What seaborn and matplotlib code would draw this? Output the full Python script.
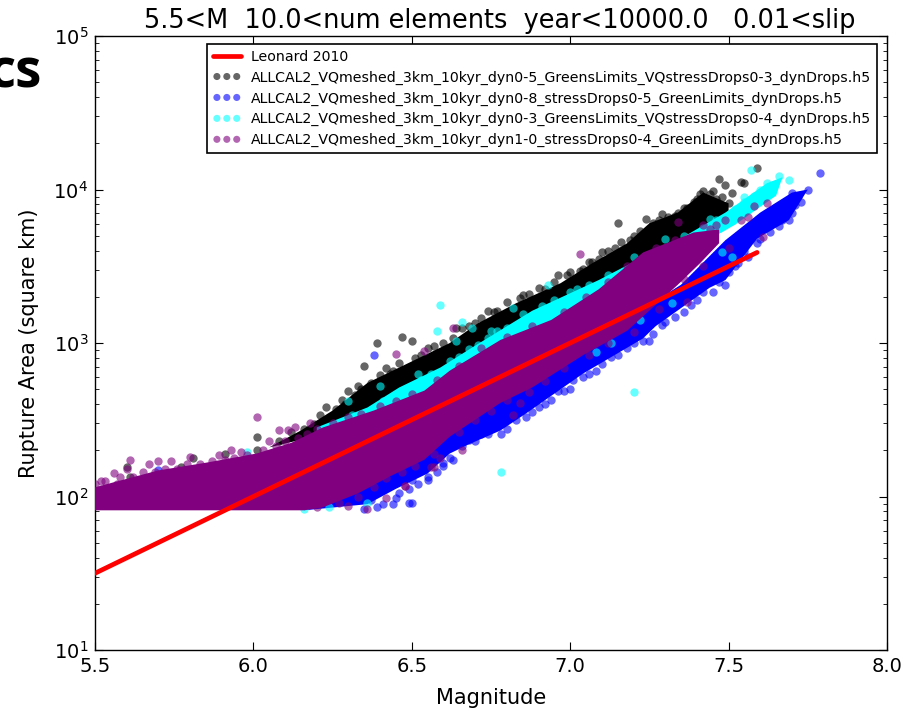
import numpy as np
import matplotlib
matplotlib.use('Agg')
import matplotlib.pyplot as plt
import seaborn as sns

# all areas below are log10(square km)
leonard_mag = [5.5, 7.59]
leonard_log = [1.50, 3.59]

# outline of the solid part of each cloud
black_band_mag = [6.05, 6.15, 6.25, 6.36, 6.49, 6.62, 6.71, 6.83, 6.97, 7.07, 7.18, 7.25, 7.34, 7.42, 7.50, 7.50, 7.38, 7.09, 6.62, 6.15]
black_band_log = [2.32, 2.43, 2.56, 2.74, 2.87, 3.00, 3.13, 3.26, 3.39, 3.52, 3.65, 3.78, 3.85, 3.98, 3.91, 3.77, 3.61, 3.28, 2.76, 2.37]

blue_band_mag = [6.16, 6.36, 6.45, 6.55, 6.62, 6.68, 6.78, 6.86, 7.04, 7.23, 7.27, 7.44, 7.49, 7.59, 7.69, 7.75, 7.70, 7.60, 7.49, 7.35, 6.78, 6.16]
blue_band_log = [1.91, 1.95, 2.05, 2.15, 2.28, 2.34, 2.43, 2.54, 2.80, 3.03, 3.11, 3.36, 3.41, 3.68, 3.80, 4.00, 3.98, 3.85, 3.67, 3.38, 2.63, 1.95]

cyan_band_mag = [6.20, 6.36, 6.46, 6.59, 6.69, 6.88, 7.09, 7.23, 7.34, 7.49, 7.62, 7.67, 7.65, 7.52, 7.41, 7.16, 6.78, 6.20]
cyan_band_log = [2.45, 2.58, 2.71, 2.84, 2.97, 3.21, 3.41, 3.56, 3.67, 3.85, 4.04, 4.08, 3.96, 3.77, 3.64, 3.28, 2.82, 2.30]

purple_band_mag = [5.50, 5.70, 5.85, 6.01, 6.12, 6.22, 6.38, 6.54, 6.62, 6.78, 6.94, 7.09, 7.23, 7.39, 7.47,
                   7.47, 7.41, 7.34, 7.18, 7.04, 6.88, 6.78, 6.62, 6.54, 6.43, 6.33, 6.22, 6.16, 5.50]
purple_band_log = [2.06, 2.17, 2.22, 2.28, 2.35, 2.45, 2.56, 2.69, 2.82, 3.02, 3.15, 3.35, 3.59, 3.72, 3.74,
                   3.65, 3.52, 3.38, 3.08, 2.92, 2.71, 2.61, 2.39, 2.24, 2.13, 2.02, 1.93, 1.91, 1.91]

# single events: outliers first, then the ones along the rough edge of each cloud
black_mag = [6.39, 6.47, 6.50, 6.35, 6.33, 6.23, 6.96, 6.90, 6.77, 6.64, 6.01, 6.01, 5.91, 5.81, 5.60, 5.61, 5.77,
             7.15, 7.24, 7.59, 7.47, 7.49, 7.54, 7.55, 7.51, 7.42, 7.40, 7.46, 7.50, 7.34, 7.31, 7.16, 7.10, 7.07,
             6.28, 6.30, 6.42, 6.44, 6.55, 6.68, 6.74, 6.85, 6.99, 7.03, 7.20, 7.28, 7.37, 7.44,
             6.08, 6.12, 6.16, 6.19, 6.21, 6.26, 6.29, 6.32, 6.34, 6.37, 6.40, 6.43, 6.46, 6.51, 6.53, 6.57, 6.60, 6.63,
             6.66, 6.70, 6.72, 6.76, 6.80, 6.84, 6.87, 6.92, 6.95, 7.00, 7.04, 7.06, 7.09, 7.12, 7.14, 7.19, 7.22, 7.26,
             7.29, 7.33, 7.36, 7.39, 7.41, 7.43, 7.45, 7.48]
black_log = [3.00, 3.04, 3.01, 2.85, 2.72, 2.58, 3.44, 3.36, 3.21, 3.10, 2.39, 2.30, 2.28, 2.25, 2.19, 2.13, 2.19,
             3.78, 3.81, 4.14, 4.07, 4.03, 4.05, 4.04, 3.98, 3.99, 3.94, 3.94, 3.91, 3.85, 3.82, 3.66, 3.59, 3.53,
             2.63, 2.69, 2.84, 2.82, 2.97, 3.11, 3.21, 3.31, 3.44, 3.47, 3.70, 3.80, 3.88, 3.97,
             2.36, 2.42, 2.44, 2.47, 2.53, 2.57, 2.60, 2.66, 2.70, 2.74, 2.79, 2.80, 2.87, 2.90, 2.92, 2.98, 3.00, 3.03,
             3.10, 3.13, 3.16, 3.20, 3.27, 3.29, 3.32, 3.35, 3.40, 3.46, 3.48, 3.53, 3.55, 3.60, 3.62, 3.67, 3.73, 3.78,
             3.84, 3.83, 3.88, 3.92, 3.97, 3.94, 3.99, 3.95]

blue_mag = [7.79, 7.75, 7.70, 7.73, 7.69, 7.70, 7.59, 7.49, 7.45, 7.25, 7.23, 7.18, 7.13, 6.38, 6.86, 6.78, 6.72, 6.68,
            6.55, 6.50, 7.04, 7.08, 6.96, 6.49, 6.50, 6.44, 6.39, 6.35, 6.45, 6.55, 5.70, 6.62, 6.60, 6.92, 7.00,
            7.30, 7.36, 7.40, 7.52, 7.56, 7.63, 7.66,
            6.37, 6.41, 6.46, 6.49, 6.52, 6.58, 6.60, 6.63, 6.66, 6.70, 6.74, 6.80, 6.83, 6.88, 6.90, 6.94, 6.98, 7.01,
            7.06, 7.10, 7.15, 7.20, 7.26, 7.29, 7.33, 7.38, 7.42, 7.47, 7.50, 7.53, 7.55, 7.60, 7.64, 7.67, 7.71, 7.72]
blue_log = [4.11, 4.00, 3.98, 3.92, 3.80, 3.85, 3.65, 3.38, 3.33, 3.01, 3.01, 2.97, 2.91, 2.92, 2.52, 2.41, 2.41, 2.37,
            2.11, 2.11, 2.78, 2.82, 2.69, 1.96, 1.96, 1.95, 1.93, 1.92, 1.99, 2.13, 2.17, 2.25, 2.22, 2.60, 2.70,
            3.14, 3.20, 3.28, 3.50, 3.56, 3.72, 3.76,
            1.98, 1.95, 2.02, 2.05, 2.08, 2.16, 2.20, 2.24, 2.33, 2.36, 2.41, 2.44, 2.50, 2.55, 2.58, 2.63, 2.69, 2.76,
            2.80, 2.86, 2.92, 3.00, 3.06, 3.12, 3.17, 3.25, 3.33, 3.40, 3.46, 3.52, 3.60, 3.68, 3.78, 3.80, 3.90, 3.96]

cyan_mag = [7.08, 7.13, 7.22, 7.32, 7.51, 7.48, 6.59, 6.66, 6.58, 6.69, 6.93, 6.64, 6.82, 6.78, 7.20, 7.57, 7.66, 7.62,
            5.98, 6.16, 6.36, 6.24, 6.30, 6.40, 6.52, 6.75, 7.00, 7.30, 7.44, 7.55,
            6.22, 6.27, 6.31, 6.33, 6.38, 6.41, 6.44, 6.47, 6.50, 6.53, 6.56, 6.60, 6.62, 6.65, 6.68, 6.71, 6.74, 6.77,
            6.80, 6.85, 6.91, 6.95, 7.02, 7.06, 7.12, 7.17, 7.20, 7.26, 7.30, 7.36, 7.42, 7.46, 7.52, 7.55, 7.58, 7.60,
            7.64, 7.69]
cyan_log = [2.94, 3.00, 3.15, 3.26, 3.56, 3.59, 3.25, 3.14, 3.08, 3.10, 3.38, 3.01, 3.23, 2.16, 2.68, 4.13, 4.09, 4.04,
            2.29, 1.92, 1.96, 1.93, 2.62, 2.72, 2.80, 3.08, 3.33, 3.68, 3.81, 3.95,
            2.43, 2.47, 2.53, 2.50, 2.57, 2.62, 2.63, 2.69, 2.72, 2.76, 2.80, 2.82, 2.88, 2.91, 2.96, 2.99, 3.03, 3.08,
            3.10, 3.19, 3.24, 3.28, 3.35, 3.38, 3.44, 3.47, 3.56, 3.55, 3.62, 3.70, 3.75, 3.80, 3.87, 3.92, 3.96, 4.00,
            4.03, 4.06]

purple_mag = [6.01, 6.13, 6.08, 6.11, 5.96, 5.89, 5.74, 5.67, 5.61, 5.56, 5.58, 5.65, 6.48, 6.42, 6.36, 6.30, 6.57,
              6.45, 6.54, 6.63, 6.66, 6.59, 6.56, 6.48, 6.84, 6.82, 7.03, 7.61, 7.62, 7.58, 7.56, 7.54, 7.49, 7.46,
              7.42, 7.34, 7.37, 5.52, 5.60, 5.70, 5.80, 5.93, 6.05, 6.18, 7.50, 7.45,
              5.50, 5.53, 5.57, 5.62, 5.66, 5.69, 5.72, 5.76, 5.79, 5.83, 5.87, 5.91, 5.94, 5.98, 6.03, 6.07, 6.10, 6.14,
              6.17, 6.20, 6.25, 6.30, 6.34, 6.40, 6.45, 6.50, 6.58, 6.65, 6.72, 6.80, 6.88, 6.98, 7.05, 7.12, 7.18, 7.27,
              7.33, 7.44,
              6.20, 6.27, 6.33, 6.38, 6.42, 6.47, 6.51, 6.57, 6.65, 6.70, 6.75, 6.80, 6.87, 6.92, 6.98, 7.06, 7.12, 7.20,
              7.28, 7.36, 7.42]
purple_log = [2.52, 2.45, 2.43, 2.43, 2.29, 2.27, 2.23, 2.21, 2.24, 2.15, 2.13, 2.16, 2.07, 1.99, 1.92, 1.94, 2.19,
              2.93, 2.95, 3.10, 2.30, 2.25, 2.19, 2.07, 2.61, 2.53, 3.58, 3.69, 3.91, 3.89, 3.82, 3.80, 3.80, 3.77,
              3.77, 3.79, 3.27, 2.10, 2.18, 2.23, 2.26, 2.30, 2.36, 2.48, 3.62, 3.68,
              2.08, 2.10, 2.08, 2.13, 2.12, 2.16, 2.18, 2.18, 2.21, 2.21, 2.23, 2.24, 2.25, 2.27, 2.30, 2.33, 2.36, 2.38,
              2.41, 2.44, 2.48, 2.52, 2.54, 2.59, 2.62, 2.67, 2.76, 2.85, 2.97, 3.04, 3.11, 3.20, 3.30, 3.40, 3.50, 3.62,
              3.67, 3.74,
              1.93, 1.96, 2.00, 2.06, 2.12, 2.16, 2.20, 2.28, 2.42, 2.50, 2.56, 2.63, 2.68, 2.75, 2.84, 2.92, 3.00, 3.07,
              3.22, 3.42, 3.50]

labels = ['ALLCAL2_VQmeshed_3km_10kyr_dyn0-5_GreensLimits_VQstressDrops0-3_dynDrops.h5',
          'ALLCAL2_VQmeshed_3km_10kyr_dyn0-8_stressDrops0-5_GreenLimits_dynDrops.h5',
          'ALLCAL2_VQmeshed_3km_10kyr_dyn0-3_GreensLimits_VQstressDrops0-4_dynDrops.h5',
          'ALLCAL2_VQmeshed_3km_10kyr_dyn1-0_stressDrops0-4_GreenLimits_dynDrops.h5']
colors = ['black', 'blue', 'cyan', 'purple']

series = [(black_band_mag, black_band_log, black_mag, black_log),
          (blue_band_mag, blue_band_log, blue_mag, blue_log),
          (cyan_band_mag, cyan_band_log, cyan_mag, cyan_log),
          (purple_band_mag, purple_band_log, purple_mag, purple_log)]

sns.set_style('ticks', {'xtick.direction': 'in', 'ytick.direction': 'in',
                        'axes.edgecolor': 'black', 'xtick.color': 'black', 'ytick.color': 'black',
                        'text.color': 'black', 'axes.labelcolor': 'black'})
plt.rcParams['font.family'] = ['DejaVu Sans']
plt.rcParams['xtick.top'] = True
plt.rcParams['ytick.right'] = True

fig = plt.figure(figsize=(9.18, 7.14), dpi=100)
ax = fig.add_axes([95 / 918, 1 - 650 / 714, 792 / 918, 614 / 714])

sns.lineplot(x=leonard_mag, y=10 ** np.array(leonard_log), color='red', linewidth=3.4,
             label='Leonard 2010', ax=ax, zorder=10)

for i, (band_x, band_y, pts_x, pts_y) in enumerate(series):
    ax.fill(band_x, 10 ** np.array(band_y), color=colors[i], linewidth=0, zorder=2 + i)
    sns.scatterplot(x=pts_x, y=10 ** np.array(pts_y), color=colors[i], alpha=0.6, s=36, linewidth=0,
                    label=labels[i], ax=ax, zorder=2 + i)

ax.set_yscale('log')
ax.set_xlim(5.5, 8.0)
ax.set_ylim(10, 100000)
ax.set_xticks([5.5, 6.0, 6.5, 7.0, 7.5, 8.0])
ax.tick_params(which='major', length=6, width=0.8, labelsize=14, top=True, right=True, pad=5)
ax.tick_params(which='minor', length=3, width=0.6, top=True, right=True)
for s in ax.spines.values():
    s.set_linewidth(1.0)

ax.set_xlabel('Magnitude', fontsize=15, labelpad=9)
ax.set_ylabel('Rupture Area (square km)', fontsize=15, labelpad=10)
ax.set_title('5.5<M  10.0<num elements  year<10000.0   0.01<slip', fontsize=18.45, pad=6, x=0.511)

leg = ax.legend(loc='upper left', bbox_to_anchor=(112 / 792, 1 - 8 / 614), borderaxespad=0, fontsize=10.2,
                scatterpoints=3, scatteryoffsets=[0.5], markerscale=0.85, fancybox=False, framealpha=1, edgecolor='black',
                labelspacing=0.48, borderpad=0.4, handlelength=2.0, handletextpad=0.7)
leg.get_frame().set_linewidth(1.2)
leg.set_zorder(20)

# leftover of the slide heading, cut by the left edge of the picture
fig.text(42 / 918, 1 - 88 / 714, 'cs', fontsize=38, fontweight='bold', family='Open Sans', ha='right', va='baseline')

fig.savefig('out.png', dpi=100)
